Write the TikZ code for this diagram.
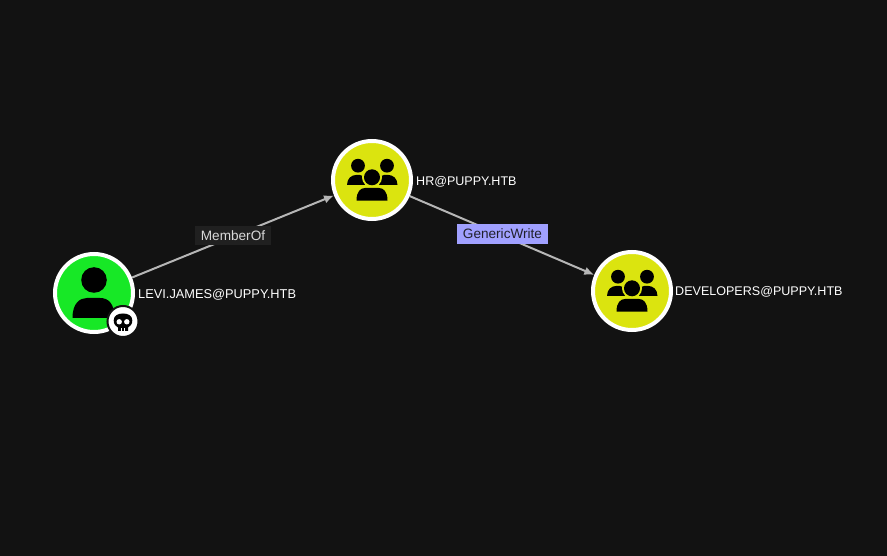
\documentclass[tikz,border=0pt]{standalone}
\usepackage{fontspec}
\setmainfont{Liberation Sans}
\usetikzlibrary{positioning}
\usetikzlibrary{arrows.meta}
\definecolor{bgdark}{RGB}{18,18,18}
\definecolor{usergreen}{RGB}{23,232,38}
\definecolor{groupyellow}{RGB}{219,228,15}
\definecolor{edgegray}{RGB}{182,182,182}
\definecolor{writeblue}{RGB}{160,160,255}
\definecolor{boxdark}{RGB}{32,32,32}
\begin{document}
\begin{tikzpicture}[x=1pt,y=-1pt,>={Latex[length=10pt,width=8.5pt]},
    obj/.style={circle,draw=white,line width=4pt,minimum size=78pt,inner sep=0pt,fill=#1},
    objtext/.style={text=white,font=\fontsize{12.55}{15}\selectfont,anchor=west,inner sep=0pt},
    edgeline/.style={->,edgegray,line width=2pt},
    edgebox/.style={font=\fontsize{13.6}{15}\selectfont,inner sep=0pt,minimum height=19.5pt},
    usericon/.pic={
      \fill[black] (0,-13) circle [radius=12.8pt];
      \fill[black] (-21.5,25) .. controls (-21.5,10) and (-14,5) .. (-7,5) -- (6,5)
        .. controls (14,5) and (20.5,10) .. (20.5,25) -- cycle;
    },
    groupicon/.pic={
      \fill[black] (-14,-14.3) circle [radius=6.9pt];
      \fill[black] (15,-14.3) circle [radius=6.9pt];
      \fill[black] (-25,5) .. controls (-25,-2) and (-20,-5) .. (-16,-5) -- (-12,-5)
        .. controls (-8,-5) and (-7,0) .. (-7,5) -- cycle;
      \fill[black] (25.5,5) .. controls (25.5,-2) and (20.5,-5) .. (16.5,-5) -- (12,-5)
        .. controls (8,-5) and (7,0) .. (7,5) -- cycle;
      \fill[groupyellow] (0,-2.7) circle [radius=10pt];
      \fill[black] (0,-2.7) circle [radius=8pt];
      \fill[black] (-15.5,20.6) .. controls (-15.5,11) and (-11,8) .. (-7,8) -- (7,8)
        .. controls (11,8) and (15.5,11) .. (15.5,20.6) -- cycle;
    }]

\useasboundingbox (0,0) rectangle (887,556);
\fill[bgdark] (0,0) rectangle (887,556);

\node[obj=usergreen] (levi) at (94,293) {};
\node[obj=groupyellow] (hr) at (372,180) {};
\node[obj=groupyellow] (dev) at (632,291) {};

\draw[edgeline] (levi) -- (hr);
\draw[edgeline] (hr) -- (dev);

\pic at (levi.center) {usericon};
\pic at (hr.center) {groupicon};
\pic at (dev.center) {groupicon};

% skull badge
\node[circle,fill=white,draw=bgdark,line width=2pt,minimum size=31pt,inner sep=0pt] (badge) at (123,321.5) {};
\begin{scope}[shift={(badge.center)}]
\fill[black] (-9.3,-1) .. controls (-9.3,-6) and (-5,-8) .. (0,-8)
  .. controls (5,-8) and (9.3,-6) .. (9.3,-1)
  .. controls (9.3,3) and (7,5) .. (5,6) -- (5,9.5) -- (-5,9.5) -- (-5,6)
  .. controls (-7,5) and (-9.3,3) .. (-9.3,-1) -- cycle;
\fill[white] (-3.8,0.3) circle [radius=2.7pt];
\fill[white] (3.8,0.3) circle [radius=2.7pt];
\fill[white] (-2,7) rectangle (-1.2,9.5);
\fill[white] (1.2,7) rectangle (2,9.5);
\end{scope}

\node[objtext,font=\fontsize{12.8}{15}\selectfont] (levitext) at (138,294.5) {LEVI.JAMES@PUPPY.HTB};
\node[objtext] (hrtext) at (416,181.5) {HR@PUPPY.HTB};
\node[objtext] (devtext) at (675,291.5) {DEVELOPERS@PUPPY.HTB};

\node[edgebox,fill=boxdark,text=white!85!black,minimum width=76pt] (memberof) at (233,235.5) {MemberOf};
\node[edgebox,fill=writeblue,text=bgdark!90!writeblue,minimum width=91pt] (genericwrite) at (502.5,234) {GenericWrite};

\end{tikzpicture}
\end{document}
